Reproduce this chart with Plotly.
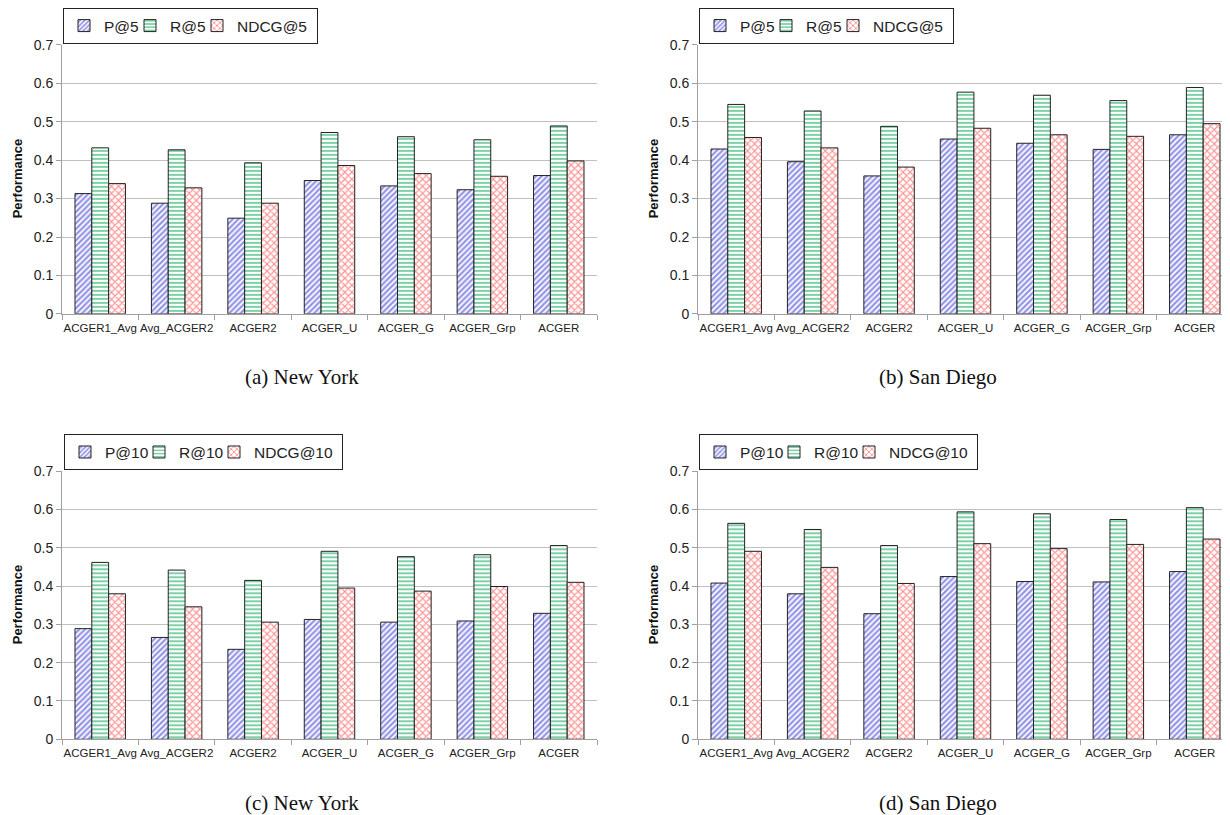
import plotly.graph_objects as go

categories = ["ACGER1_Avg", "Avg_ACGER2", "ACGER2", "ACGER_U", "ACGER_G", "ACGER_Grp", "ACGER"]

# (a) New York, top-5
ny5_p = [0.313, 0.288, 0.249, 0.347, 0.333, 0.323, 0.360]
ny5_r = [0.432, 0.427, 0.393, 0.472, 0.461, 0.453, 0.489]
ny5_n = [0.339, 0.328, 0.288, 0.386, 0.365, 0.358, 0.398]
# (b) San Diego, top-5
sd5_p = [0.429, 0.396, 0.359, 0.455, 0.444, 0.428, 0.466]
sd5_r = [0.545, 0.528, 0.488, 0.577, 0.569, 0.555, 0.589]
sd5_n = [0.459, 0.432, 0.382, 0.483, 0.466, 0.462, 0.495]
# (c) New York, top-10
ny10_p = [0.289, 0.266, 0.235, 0.313, 0.306, 0.309, 0.329]
ny10_r = [0.462, 0.442, 0.415, 0.491, 0.477, 0.482, 0.506]
ny10_n = [0.380, 0.346, 0.306, 0.395, 0.387, 0.399, 0.410]
# (d) San Diego, top-10
sd10_p = [0.408, 0.380, 0.328, 0.425, 0.412, 0.411, 0.438]
sd10_r = [0.564, 0.548, 0.506, 0.594, 0.589, 0.574, 0.605]
sd10_n = [0.491, 0.449, 0.407, 0.511, 0.498, 0.509, 0.523]

names5 = ["P@5", "R@5", "NDCG@5"]
names10 = ["P@10", "R@10", "NDCG@10"]
captions = ["(a) New York", "(b) San Diego", "(c) New York", "(d) San Diego"]
yticks = [0, 0.1, 0.2, 0.3, 0.4, 0.5, 0.6, 0.7]
ytick_text = ["0", "0.1", "0.2", "0.3", "0.4", "0.5", "0.6", "0.7"]

# page body has an 8px margin, so the figure is drawn 8px smaller and offset
OFF = 8
SCREEN_W = 1230
W, H = SCREEN_W - OFF, 815 - OFF
def px_x(v): return (min(v, SCREEN_W) - OFF) / W
def px_y(v): return 1 - (v - OFF) / H

PW = 535  # plot width in px for 7 categories
panels = [
    dict(data=[ny5_p, ny5_r, ny5_n], names=names5, x0=62, top=42, bot=312, leg=(63, 5)),
    dict(data=[sd5_p, sd5_r, sd5_n], names=names5, x0=698, top=42, bot=312, leg=(699, 5)),
    dict(data=[ny10_p, ny10_r, ny10_n], names=names10, x0=62, top=470, bot=739, leg=(64, 433)),
    dict(data=[sd10_p, sd10_r, sd10_n], names=names10, x0=698, top=470, bot=739, leg=(699, 433)),
]
cap_pos = [(302, 375), (938, 375), (302, 803), (938, 803)]

styles = [
    dict(shape="/", fg="#2a2ad0", size=4, sol=0.55),
    dict(shape="-", fg="#00a050", size=4, sol=0.5),
    dict(shape="x", fg="#ff2424", size=5, sol=0.4),
]
legend_widths5 = [21, 22, 75]
legend_widths10 = [29, 30, 83]

fig = go.Figure()
layout = dict(
    width=W, height=H, margin=dict(l=0, r=0, t=0, b=0),
    paper_bgcolor="white", plot_bgcolor="white",
    barmode="group", bargap=0.34, bargroupgap=0,
    font=dict(family="Liberation Sans, Arial, sans-serif", color="#222"),
    showlegend=True,
)
annotations = []
for i, p in enumerate(panels):
    k = "" if i == 0 else str(i + 1)
    legname = "legend" + k
    lws = legend_widths5 if p["names"] is names5 else legend_widths10
    for j, (vals, nm) in enumerate(zip(p["data"], p["names"])):
        s = styles[j]
        fig.add_trace(go.Bar(
            x=categories, y=vals, name=nm, xaxis="x" + k, yaxis="y" + k,
            legend=legname, legendwidth=lws[j],
            marker=dict(color="white", line=dict(color="#222", width=1),
                        pattern=dict(shape=s["shape"], fgcolor=s["fg"], bgcolor="white",
                                     size=s["size"], solidity=s["sol"], fillmode="overlay")),
        ))
    x1 = p["x0"] + PW
    vis = min(x1, SCREEN_W) - p["x0"]
    layout["xaxis" + k] = dict(
        domain=[px_x(p["x0"]), px_x(x1)], anchor="y" + k,
        range=[-0.5, -0.5 + 7 * vis / PW],
        showline=True, linecolor="#a0a0a0", linewidth=1,
        ticks="outside", tickson="boundaries", ticklen=5, tickcolor="#a0a0a0",
        tickangle=0, automargin=False, ticklabelstandoff=3,
        tickfont=dict(size=11.5, color="#222"), showgrid=False, fixedrange=True,
    )
    layout["yaxis" + k] = dict(
        domain=[px_y(p["bot"]), px_y(p["top"])], anchor="x" + k,
        range=[0, 0.7], tickvals=yticks, ticktext=ytick_text,
        showline=True, linecolor="#a0a0a0", linewidth=1,
        ticks="outside", ticklen=5, tickcolor="#a0a0a0", automargin=False,
        showgrid=True, gridcolor="#c0c0c0", gridwidth=1.3,
        tickfont=dict(size=14, color="#222"), zeroline=False,
    )
    lx, ly = p["leg"]
    layout[legname] = dict(
        x=px_x(lx), y=px_y(ly), xanchor="left", yanchor="top",
        orientation="h", bordercolor="#222", borderwidth=1, bgcolor="white",
        font=dict(size=15.5, color="#222"), itemwidth=30, tracegroupgap=0,
    )
    annotations.append(dict(
        text="<b>Performance</b>", textangle=-90, showarrow=False,
        x=px_x(p["x0"] - 45), y=px_y((p["top"] + p["bot"]) / 2),
        xref="paper", yref="paper", xanchor="center", yanchor="middle",
        font=dict(size=13, color="#111"),
    ))
    cx, cy = cap_pos[i]
    annotations.append(dict(
        text=captions[i], showarrow=False, x=px_x(cx), y=px_y(cy),
        xref="paper", yref="paper", xanchor="center", yanchor="middle",
        font=dict(family="Liberation Serif, Times New Roman, serif", size=21, color="#111"),
    ))
layout["annotations"] = annotations
fig.update_layout(**layout)
fig.write_html("out.html")
